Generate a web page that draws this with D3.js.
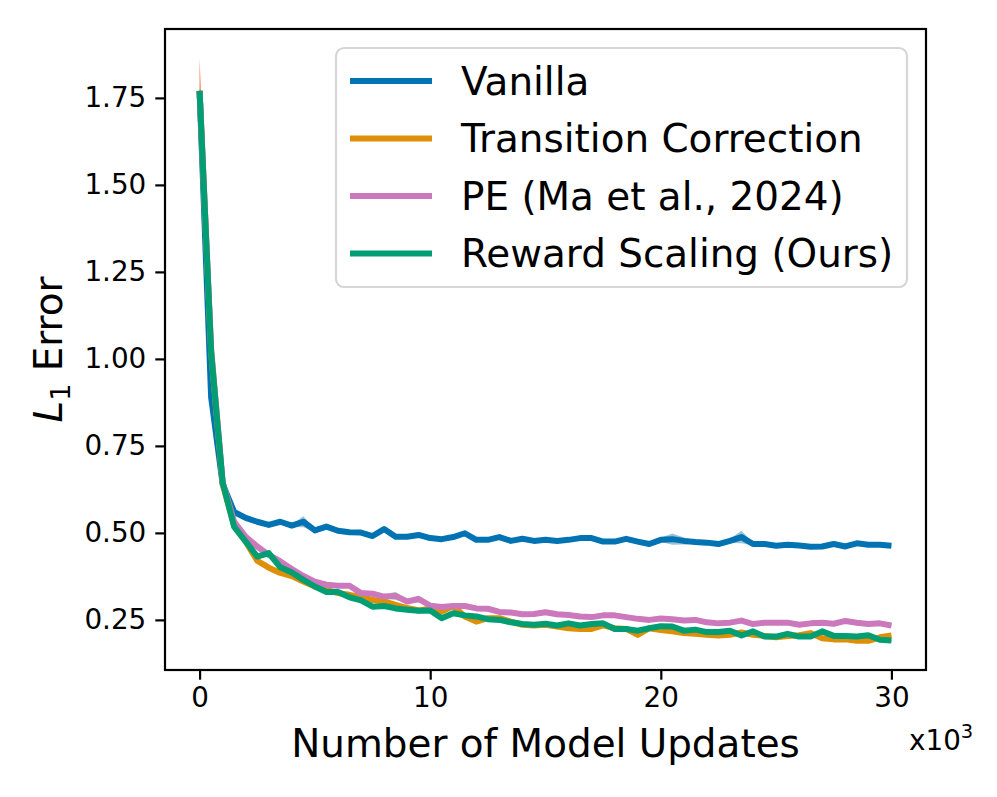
<!DOCTYPE html>
<html>
<head>
<meta charset="utf-8">
<title>L1 Error vs Model Updates</title>
<script src="https://d3js.org/d3.v7.min.js"></script>
<style>
  body { margin: 0; background: #fff; }
  text { font-family: "DejaVu Sans", sans-serif; fill: #000; }
</style>
</head>
<body>
<svg width="997" height="797"></svg>
<script>
// x values, in thousands of model updates
var updates = [0,0.5,1,1.5,2,2.5,3,3.5,4,4.5,5,5.5,6,6.5,7,7.5,8,8.5,9,9.5,
  10,10.5,11,11.5,12,12.5,13,13.5,14,14.5,15,15.5,16,16.5,17,17.5,18,18.5,19,19.5,
  20,20.5,21,21.5,22,22.5,23,23.5,24,24.5,25,25.5,26,26.5,27,27.5,28,28.5,29,29.5,30];

var vanilla = [1.77,0.89,0.64,0.56,0.543,0.532,0.523,0.532,0.521,0.532,
  0.507,0.518,0.506,0.502,0.501,0.491,0.511,0.489,0.489,0.494,
  0.485,0.482,0.488,0.499,0.480,0.480,0.488,0.477,0.483,0.477,
  0.480,0.477,0.480,0.485,0.485,0.475,0.475,0.483,0.475,0.468,
  0.480,0.482,0.477,0.474,0.472,0.468,0.477,0.488,0.468,0.468,
  0.463,0.466,0.464,0.460,0.461,0.468,0.461,0.470,0.466,0.466,0.463];
var vanillaStd = [0.01,0.01,0.006,0.004,0.004,0.004,0.004,0.004,0.004,0.016,
  0.004,0.006,0.004,0.004,0.004,0.004,0.004,0.004,0.004,0.004,
  0.004,0.004,0.004,0.004,0.004,0.004,0.004,0.004,0.004,0.004,
  0.004,0.004,0.004,0.004,0.004,0.004,0.004,0.004,0.004,0.004,
  0.006,0.016,0.01,0.004,0.004,0.004,0.006,0.018,0.004,0.004,
  0.004,0.004,0.004,0.004,0.004,0.004,0.004,0.004,0.004,0.004,0.004];

var transition = [1.77,1.02,0.64,0.52,0.475,0.42,0.40,0.385,0.376,0.36,
  0.346,0.336,0.327,0.322,0.316,0.307,0.303,0.293,0.284,0.277,
  0.282,0.274,0.29,0.26,0.245,0.255,0.255,0.245,0.236,0.234,
  0.236,0.231,0.226,0.224,0.224,0.234,0.226,0.224,0.207,0.226,
  0.221,0.217,0.212,0.210,0.207,0.205,0.207,0.214,0.207,0.204,
  0.200,0.204,0.206,0.212,0.197,0.194,0.194,0.190,0.190,0.200,0.205];
var transitionStd = [0.095,0.01,0.008,0.006,0.006,0.008,0.008,0.006,0.006,0.006,
  0.006,0.006,0.006,0.006,0.006,0.006,0.006,0.008,0.006,0.006,
  0.006,0.006,0.008,0.006,0.006,0.006,0.006,0.006,0.006,0.006,
  0.006,0.006,0.006,0.006,0.006,0.006,0.006,0.006,0.006,0.006,
  0.006,0.006,0.006,0.006,0.006,0.006,0.006,0.006,0.006,0.006,
  0.006,0.006,0.006,0.006,0.006,0.006,0.006,0.006,0.006,0.006,0.006];

var pe = [1.77,1.03,0.645,0.532,0.489,0.461,0.437,0.418,0.396,0.376,
  0.360,0.351,0.348,0.348,0.327,0.325,0.317,0.319,0.303,0.310,
  0.291,0.287,0.290,0.290,0.283,0.282,0.273,0.271,0.266,0.267,
  0.272,0.266,0.264,0.260,0.258,0.263,0.263,0.258,0.253,0.250,
  0.254,0.252,0.248,0.250,0.243,0.240,0.242,0.248,0.238,0.242,
  0.242,0.242,0.236,0.240,0.242,0.239,0.247,0.242,0.238,0.240,0.234];
var peStd = [0.02,0.01,0.006,0.004,0.004,0.004,0.006,0.01,0.004,0.004,
  0.004,0.004,0.006,0.004,0.004,0.004,0.006,0.012,0.004,0.01,
  0.004,0.004,0.004,0.004,0.004,0.004,0.004,0.004,0.004,0.004,
  0.004,0.004,0.004,0.004,0.004,0.004,0.004,0.004,0.004,0.004,
  0.004,0.004,0.004,0.004,0.004,0.004,0.004,0.004,0.004,0.004,
  0.004,0.004,0.004,0.004,0.004,0.004,0.004,0.004,0.004,0.004,0.004];

var scaling = [1.77,1.02,0.645,0.517,0.475,0.432,0.442,0.401,0.386,0.365,
  0.346,0.330,0.330,0.315,0.306,0.288,0.290,0.283,0.279,0.276,
  0.277,0.255,0.269,0.263,0.260,0.252,0.250,0.243,0.238,0.236,
  0.239,0.234,0.240,0.234,0.238,0.240,0.224,0.224,0.219,0.226,
  0.232,0.231,0.219,0.222,0.215,0.215,0.219,0.205,0.217,0.202,
  0.202,0.210,0.202,0.202,0.217,0.204,0.204,0.202,0.206,0.193,0.191];
var scalingStd = [0.09,0.006,0.004,0.003,0.003,0.003,0.003,0.003,0.003,0.003,
  0.003,0.003,0.003,0.003,0.003,0.003,0.003,0.003,0.003,0.003,
  0.003,0.003,0.003,0.003,0.003,0.003,0.003,0.003,0.003,0.003,
  0.003,0.003,0.003,0.003,0.003,0.003,0.003,0.003,0.003,0.003,
  0.003,0.003,0.003,0.003,0.003,0.003,0.003,0.003,0.003,0.003,
  0.003,0.003,0.003,0.003,0.003,0.003,0.003,0.003,0.003,0.003,0.003];

var names = ["Vanilla", "Transition Correction", "PE (Ma et al., 2024)", "Reward Scaling (Ours)"];
var lineColors = ["#0173b2", "#de8f05", "#cc78bc", "#029e73"];
var bandColors = ["#1f77b4", "#ff7f0e", "#2ca02c", "#d62728"];
var xTicks = [0, 10, 20, 30];
var yTicks = [0.25, 0.50, 0.75, 1.00, 1.25, 1.50, 1.75];

var series = [
  {mean: vanilla, std: vanillaStd},
  {mean: transition, std: transitionStd},
  {mean: pe, std: peStd},
  {mean: scaling, std: scalingStd}
];

var svg = d3.select("svg");
var pLeft = 165, pRight = 926, pTop = 29, pBottom = 670;

var x = d3.scaleLinear().domain([-1.5, 31.5]).range([pLeft, pRight]);
var y = d3.scaleLinear().domain([0.106, 1.948]).range([pBottom, pTop]);

svg.append("clipPath").attr("id", "plotclip")
  .append("rect").attr("x", pLeft).attr("y", pTop)
  .attr("width", pRight - pLeft).attr("height", pBottom - pTop);

var plot = svg.append("g").attr("clip-path", "url(#plotclip)");

var area = d3.area()
  .x(function(d, i) { return x(updates[i]); })
  .y0(function(d) { return y(d.m - d.s); })
  .y1(function(d) { return y(d.m + d.s); });

var line = d3.line()
  .x(function(d, i) { return x(updates[i]); })
  .y(function(d) { return y(d); });

series.forEach(function(s, k) {
  var pts = s.mean.map(function(m, i) { return {m: m, s: s.std[i]}; });
  plot.append("path")
    .attr("d", area(pts))
    .attr("fill", bandColors[k])
    .attr("fill-opacity", 0.45)
    .attr("stroke", "none");
  plot.append("path")
    .attr("d", line(s.mean))
    .attr("fill", "none")
    .attr("stroke", lineColors[k])
    .attr("stroke-width", 6)
    .attr("stroke-linejoin", "round");
});

// axes
var xAxis = svg.append("g")
  .attr("transform", "translate(0," + pBottom + ")")
  .call(d3.axisBottom(x).tickValues(xTicks).tickSize(9.7).tickPadding(8));
var yAxis = svg.append("g")
  .attr("transform", "translate(" + pLeft + ",0)")
  .call(d3.axisLeft(y).tickValues(yTicks).tickFormat(d3.format(".2f")).tickSize(9.7).tickPadding(9));

[xAxis, yAxis].forEach(function(a) {
  a.select(".domain").remove();
  a.selectAll(".tick line").attr("stroke", "#000").attr("stroke-width", 2.2);
  a.selectAll(".tick text").attr("font-family", "DejaVu Sans").attr("font-size", 27.8).attr("fill", "#000");
});

// frame
svg.append("rect")
  .attr("x", pLeft).attr("y", pTop)
  .attr("width", pRight - pLeft).attr("height", pBottom - pTop)
  .attr("fill", "none").attr("stroke", "#000").attr("stroke-width", 2.2);

// axis labels
svg.append("text")
  .attr("x", (pLeft + pRight) / 2).attr("y", 757)
  .attr("text-anchor", "middle")
  .attr("font-size", 38.9)
  .text("Number of Model Updates");

var xm = svg.append("text")
  .attr("x", 909).attr("y", 750)
  .attr("font-size", 27.8);
xm.append("tspan").text("x10");
xm.append("tspan").attr("font-size", 19.5).attr("dy", -12).text("3");

var yl = svg.append("text")
  .attr("transform", "translate(62," + ((pTop + pBottom) / 2) + ") rotate(-90)")
  .attr("text-anchor", "middle")
  .attr("font-size", 38.9);
yl.append("tspan").attr("font-style", "italic").text("L");
yl.append("tspan").attr("font-size", 27).attr("dy", 8).text("1");
yl.append("tspan").attr("dy", -8).text(" Error");

// legend
var lg = svg.append("g");
lg.append("rect")
  .attr("x", 336).attr("y", 48)
  .attr("width", 571).attr("height", 239)
  .attr("rx", 8).attr("ry", 8)
  .attr("fill", "#fff").attr("fill-opacity", 0.8)
  .attr("stroke", "#d6d6d6").attr("stroke-width", 2.2);

names.forEach(function(n, k) {
  var yy = 81 + k * 57.5;
  lg.append("line")
    .attr("x1", 350).attr("x2", 432)
    .attr("y1", yy).attr("y2", yy)
    .attr("stroke", lineColors[k]).attr("stroke-width", 6);
  lg.append("text")
    .attr("x", 461).attr("y", yy + 13.5)
    .attr("font-size", 38.9)
    .text(n);
});
</script>
</body>
</html>
